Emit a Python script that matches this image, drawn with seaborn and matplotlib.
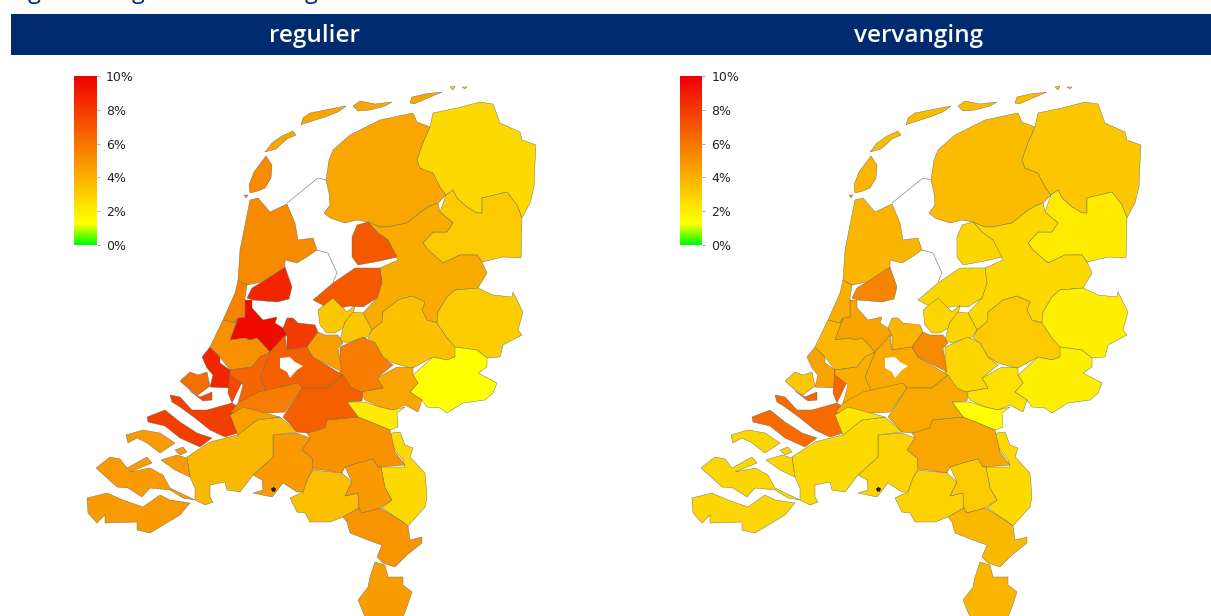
import matplotlib
matplotlib.use("Agg")
import matplotlib.pyplot as plt
import seaborn as sns
from matplotlib.collections import PolyCollection
from matplotlib.colors import ListedColormap, Normalize
from matplotlib.cm import ScalarMappable

sns.set_theme(style="white")

panels = ["regulier", "vervanging"]
ticks = [0, 2, 4, 6, 8, 10]
tick_labels = ["0%", "2%", "4%", "6%", "8%", "10%"]

# region outlines
friesland = [(326,180),(329,160),(333,150),(350,135),(380,120),(413,113),(417,122),(430,127),(423,143),(417,160),(420,168),(433,173),(440,187),(446,195),(438,203),(430,206),(422,211),(407,223),(397,225),(388,227),(380,227),(368,222),(357,220),(345,223),(330,218),(324,213),(330,205),(329,193)]
terschelling = [(301,125),(303,118),(310,113),(330,109),(346,106),(338,112),(325,117),(303,124)]
ameland = [(353,106),(360,101),(375,104),(392,102),(385,106),(370,110),(358,111)]
vlieland = [(265,152),(272,143),(282,136),(293,131),(296,135),(287,139),(276,149)]
schier = [(410,103),(412,97),(425,94),(442,92),(428,98),(414,104)]
groningen = [(430,127),(433,113),(457,108),(480,102),(493,104),(500,123),(520,132),(522,140),(536,145),(535,163),(534,187),(530,203),(522,218),(517,205),(507,192),(482,198),(482,213),(477,213),(467,207),(457,198),(453,190),(446,195),(440,187),(433,173),(420,168),(417,160),(423,143)]
rottum = [(450,87),(455,86),(453,90)]
rottum_oost = [(462,87),(467,87),(465,89)]
drenthe = [(453,190),(457,198),(467,207),(477,213),(482,213),(482,198),(507,192),(517,205),(522,218),(521,258),(503,257),(482,262),(477,255),(460,255),(443,263),(428,250),(423,243),(433,232),(447,232),(453,223),(440,212),(446,195)]
ijsselland = [(368,222),(380,227),(388,227),(397,225),(407,223),(422,211),(430,206),(438,203),(440,212),(453,223),(447,232),(433,232),(423,243),(428,250),(443,263),(460,255),(477,255),(482,262),(487,273),(478,288),(455,290),(447,297),(438,312),(437,323),(427,320),(422,310),(425,302),(412,296),(398,300),(383,312),(382,322),(372,330),(363,313),(377,298),(382,283),(380,268),(398,260),(388,240),(378,233)]
polder = [(352,237),(357,225),(368,222),(378,233),(388,240),(397,257),(380,261),(358,265),(352,257)]
flevoland = [(313,300),(333,283),(355,268),(380,268),(382,283),(377,298),(363,307),(350,306),(340,308),(332,310)]
gooi = [(318,310),(333,298),(347,312),(355,305),(353,315),(345,322),(343,328),(335,333),(327,333),(320,325)]
veluwe_noord = [(353,312),(363,313),(372,330),(367,337),(355,340),(347,343),(340,340),(343,328),(345,322)]
veluwe = [(372,330),(382,322),(383,312),(398,300),(412,296),(425,302),(422,310),(427,320),(437,323),(447,338),(457,347),(455,357),(447,360),(433,357),(413,368),(407,367),(393,363),(383,357),(375,343),(368,338)]
twente = [(437,323),(438,312),(447,297),(455,290),(478,288),(493,295),(512,297),(513,292),(523,312),(518,330),(522,335),(503,345),(500,357),(487,358),(477,350),(455,347),(447,338)]
achterhoek = [(455,347),(477,350),(487,358),(487,367),(478,373),(497,383),(493,393),(485,400),(463,403),(447,413),(440,408),(427,407),(422,400),(410,392),(418,383),(413,375),(433,357),(447,360),(455,357)]
arnhem = [(377,378),(397,367),(413,368),(413,375),(418,383),(410,392),(422,400),(418,412),(405,405),(393,410),(380,407),(365,400),(360,392),(383,388)]
gelderse_vallei = [(340,347),(363,337),(375,343),(383,357),(393,365),(377,378),(383,388),(360,392),(340,383)]
nijmegen = [(347,402),(365,402),(380,407),(393,410),(405,407),(397,413),(398,427),(390,430),(373,423),(358,417)]
noord_limburg = [(392,433),(400,432),(405,445),(413,448),(410,457),(425,473),(427,497),(425,507),(408,526),(400,520),(382,508),(392,500),(385,488),(381,467),(405,467),(403,460),(395,450),(390,437)]
oost_brabant = [(327,420),(358,417),(373,423),(390,430),(395,452),(405,465),(378,467),(373,459),(358,463),(345,467),(342,473),(323,470),(313,469),(312,458),(302,450),(310,438),(307,433),(323,428)]
midden_brabant = [(273,435),(297,433),(310,438),(302,450),(312,458),(313,469),(308,478),(303,492),(297,492),(283,483),(272,497),(253,493),(263,490),(262,480),(253,475),(273,457)]
west_brabant = [(187,457),(210,442),(237,435),(257,420),(280,417),(297,432),(273,435),(273,457),(253,475),(240,492),(227,490),(225,482),(210,485),(210,497),(213,502),(205,505),(195,500),(195,488),(190,477)]
eindhoven = [(313,470),(342,473),(352,482),(345,496),(358,493),(359,508),(343,517),(330,522),(310,522),(305,513),(297,512),(290,498),(303,492),(308,478)]
helmond = [(345,467),(358,463),(373,459),(378,467),(381,467),(385,488),(392,500),(380,508),(362,513),(359,508),(358,493),(345,496),(352,482)]
midden_limburg = [(343,517),(359,508),(362,513),(380,508),(400,520),(408,526),(410,540),(422,537),(422,543),(407,555),(395,567),(383,563),(377,557),(382,545),(373,542),(350,533),(347,522)]
zuid_limburg = [(375,562),(385,565),(388,577),(403,577),(403,585),(412,592),(407,607),(403,617),(365,617),(358,600),(368,587),(370,577)]
zeeuws_vlaanderen = [(87,498),(107,493),(123,500),(143,507),(160,495),(170,500),(190,503),(180,515),(160,527),(150,533),(137,530),(137,522),(105,523),(105,515),(97,523),(88,513)]
beveland = [(96,468),(110,457),(120,459),(127,468),(147,457),(152,463),(130,472),(150,468),(163,475),(170,488),(195,500),(183,498),(170,490),(150,488),(142,497),(128,488),(117,487)]
tholen = [(161,460),(177,455),(187,458),(190,477),(175,470)]
schouwen = [(126,435),(143,430),(160,433),(175,443),(160,453),(147,443),(137,438),(128,443)]
st_philipsland = [(175,450),(183,447),(187,452),(180,455)]
goeree = [(147,417),(165,410),(180,422),(197,433),(212,438),(200,447),(180,438),(165,426),(148,422)]
hoekse_waard = [(170,395),(180,397),(192,410),(207,410),(232,403),(238,407),(238,433),(225,437),(210,430),(195,418),(180,407),(172,402)]
rotterdam = [(202,357),(210,347),(220,357),(220,363),(230,370),(230,388),(210,387),(213,375),(207,368)]
westland = [(180,381),(190,372),(198,375),(207,372),(210,386),(198,395),(190,390)]
voorne = [(190,391),(200,397),(212,392),(212,400),(203,401)]
dordrecht = [(230,370),(243,380),(232,403),(228,393)]
groene_hart = [(230,340),(238,318),(245,317),(245,300),(252,300),(252,308),(263,320),(277,317),(275,323),(283,328),(287,335),(270,352),(257,338),(250,340),(245,338)]
amsterdam = [(247,298),(252,288),(262,282),(285,267),(292,287),(289,299),(277,302),(253,300)]
haarlem = [(223,320),(235,293),(238,280),(247,285),(245,298),(245,317),(238,318),(235,323)]
noord_holland = [(250,200),(258,198),(270,212),(287,204),(295,223),(298,240),(313,238),(317,250),(307,257),(297,263),(285,260),(285,267),(262,282),(247,285),(238,280),(240,250)]
texel = [(266,156),(272,165),(271,178),(265,188),(258,191),(250,193),(249,185),(254,172)]
noorderhaaks = [(244,195),(248,195),(246,198)]
den_haag = [(210,347),(223,320),(235,323),(238,318),(230,340),(245,338),(250,340),(257,338),(270,352),(260,357),(252,367),(230,370),(220,357)]
utrecht_west = [(283,328),(287,318),(293,318),(298,323),(315,325),(318,332),(307,347),(287,350),(287,335)]
utrecht_zuid = [(285,335),(287,350),(307,347),(313,357),(338,372),(343,375),(327,388),(302,388),(298,383),(267,393),(260,377),(270,352)]
gouda = [(230,370),(252,367),(260,357),(270,352),(260,377),(267,393),(247,400),(238,403),(243,385),(230,375)]
amersfoort = [(307,347),(318,332),(325,335),(338,335),(343,343),(338,348),(340,360),(342,372),(313,357)]
rivierenland = [(283,417),(302,388),(327,388),(343,375),(352,388),(363,393),(362,401),(347,402),(358,417),(327,420),(325,428),(307,433),(297,432)]
breda_noord = [(238,403),(258,392),(298,383),(302,388),(285,412),(270,413),(245,412),(230,413)]
breda_zuid = [(230,415),(243,407),(280,417),(257,420),(238,435)]

region_shapes = [
    [friesland, terschelling, ameland, vlieland, schier], [groningen, rottum, rottum_oost], [drenthe], [ijsselland],
    [polder], [flevoland], [gooi], [veluwe_noord], [veluwe], [twente], [achterhoek], [arnhem],
    [gelderse_vallei], [nijmegen], [noord_limburg], [oost_brabant], [midden_brabant], [west_brabant],
    [eindhoven], [helmond], [midden_limburg], [zuid_limburg],
    [zeeuws_vlaanderen, beveland, tholen, schouwen, st_philipsland], [goeree, hoekse_waard], [rotterdam],
    [westland], [voorne, dordrecht], [groene_hart], [amsterdam], [haarlem], [noord_holland, texel, noorderhaaks],
    [den_haag], [utrecht_west], [utrecht_zuid], [gouda], [amersfoort], [rivierenland], [breda_noord], [breda_zuid],
]

# percentages, same order as region_shapes
regulier = [4.3, 2.6, 3.1, 4.1, 6.9, 6.9, 3.2, 3.2, 3.4, 3.0, 1.3, 4.3, 5.7, 2.0, 2.6, 5.0, 4.7, 3.7, 3.5, 4.7,
            4.9, 4.6, 4.7, 7.8, 8.6, 6.2, 7.4, 9.5, 8.6, 5.6, 5.2, 5.0, 7.9, 6.7, 6.6, 4.5, 6.7, 5.7, 4.5]
vervanging = [3.6, 3.3, 2.0, 2.6, 2.7, 2.7, 2.7, 2.7, 3.1, 1.9, 1.9, 2.4, 2.7, 1.3, 2.6, 4.3, 2.9, 2.6, 2.9, 3.1,
              3.7, 3.8, 2.7, 6.3, 4.4, 3.2, 6.5, 4.4, 5.4, 4.0, 3.8, 3.7, 3.8, 4.2, 4.0, 5.2, 4.2, 4.0, 2.2]
all_values = {"regulier": regulier, "vervanging": vervanging}

lake = [(280,358),(290,357),(295,362),(303,366),(297,370),(290,378),(287,372),(280,368)]
afsluitdijk = [(287,203),(318,178),(326,180)]
houtribdijk = [(317,250),(328,253),(337,273),(333,282)]
speck = (273, 489)

# green to yellow quickly, then yellow to red
cmap = ListedColormap(sns.blend_palette(["#00ff00", "#ffff00"], 13) + sns.blend_palette(["#ffff00", "#ee0000"], 87))
norm = Normalize(0, 10)

fig = plt.figure(figsize=(12.11, 6.16), dpi=100)

# title above the crop, only the tails of the g's are left in the picture
for x, piece in [(11, "Figuur"), (132, "g"), (305, "g")]:
    fig.text(x / 1211, 1 + 2 / 616, piece, color="#002b6e", fontsize=17, family="Open Sans", va="baseline")

for i, name in enumerate(panels):
    ax = fig.add_axes([(605 * i) / 1211, 0, (605 + i) / 1211, 1])
    ax.set_xlim(0, 605 + i)
    ax.set_ylim(616, 0)
    ax.axis("off")
    ax.axhspan(14, 55, xmin=(11 / 605 if i == 0 else 0), xmax=1, color="#002b6e", lw=0)
    ax.text(314, 36, name, color="white", fontsize=17.5, family="Open Sans", weight="semibold", ha="center", va="center")

    polys, vals = [], []
    for rings, v in zip(region_shapes, all_values[name]):
        for ring in rings:
            polys.append(ring)
            vals.append(v)
    ax.add_collection(PolyCollection(polys, array=vals, cmap=cmap, norm=norm, edgecolors="#666666", linewidths=0.3))
    ax.fill(*zip(*lake), color="white", lw=0)
    ax.plot(*zip(*afsluitdijk), color="#888888", lw=0.5)
    ax.plot(*zip(*houtribdijk), color="#888888", lw=0.5)
    ax.plot(*speck, marker="*", color="#222222", ms=3, lw=0)

    cax = fig.add_axes([(74 + 605.5 * i) / 1211, 1 - 245 / 616, 23 / 1211, 169 / 616])
    cb = fig.colorbar(ScalarMappable(norm=norm, cmap=cmap), cax=cax)
    cb.set_ticks(ticks, labels=tick_labels)
    cb.ax.tick_params(length=2.5, width=0.6, color="#999999", labelsize=9, labelcolor="#222222", pad=4, right=True)
    cb.outline.set_visible(False)

fig.savefig("out.png", dpi=100)
